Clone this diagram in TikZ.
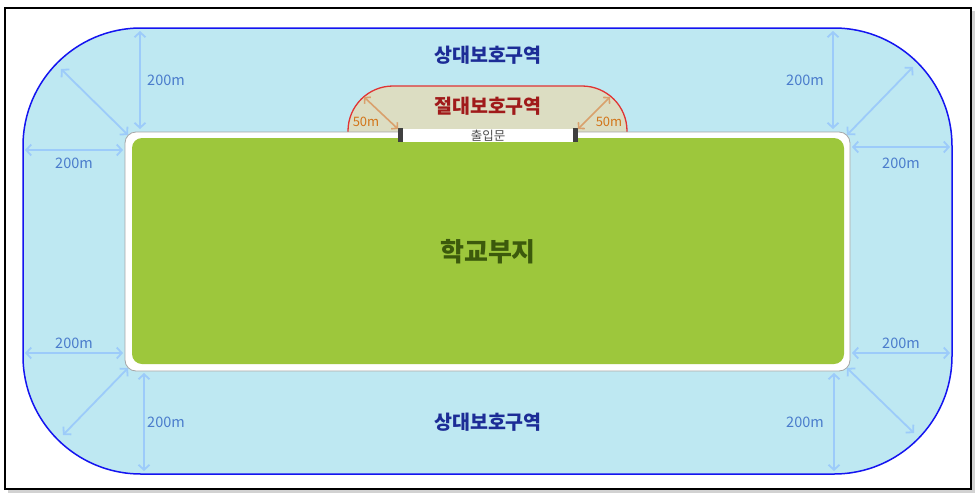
\documentclass[tikz,border=0pt]{standalone}
\usepackage{fontspec}
\setmainfont{Noto Sans CJK KR}
\usetikzlibrary{arrows.meta}
\definecolor{zoneblue}{HTML}{BEE8F2}
\definecolor{zoneedge}{HTML}{1414F0}
\definecolor{arrowblue}{HTML}{9CCBFA}
\definecolor{labelblue}{HTML}{4A7CCC}
\definecolor{navy}{HTML}{1C2C96}
\definecolor{schoolgreen}{HTML}{9DC73C}
\definecolor{darkgreen}{HTML}{3C5A0C}
\definecolor{absfill}{HTML}{DCDDC2}
\definecolor{absedge}{HTML}{E03434}
\definecolor{absred}{HTML}{A01A1A}
\definecolor{orangearrow}{HTML}{D9A06C}
\definecolor{orangetext}{HTML}{D27418}
\tikzset{
  dimarrow/.style={draw=arrowblue, line width=1.8pt, {Straight Barb[length=5pt,width=11pt]}-{Straight Barb[length=5pt,width=11pt]}},
  smallarrow/.style={draw=orangearrow, line width=1.6pt, {Straight Barb[length=4pt,width=9pt]}-{Straight Barb[length=4pt,width=9pt]}},
  dimlabel/.style={text=labelblue, font=\fontsize{14.5}{14.5}\selectfont, inner sep=0pt},
  zonelabel/.style={text=navy, font=\fontsize{19.5}{19.5}\selectfont\bfseries, inner sep=0pt},
  fiftylabel/.style={text=orangetext, font=\fontsize{13}{13}\selectfont, inner sep=0pt},
}
\begin{document}
\begin{tikzpicture}[x=1pt,y=-1pt]
\useasboundingbox (0,0) rectangle (978,496);
% frame
\fill[gray!35] (8,11) rectangle (975,493);
\draw[black, line width=2.5pt, fill=white] (5,8) rectangle (971,489);
% relative protection zone
\draw[zoneedge, line width=1.5pt, fill=zoneblue, rounded corners=118pt] (23,28) rectangle (952,474);
% absolute protection zone
\fill[absfill] (348,133) {[rounded corners=45pt] -- (348,86) -- (627,86)} -- (627,133) -- cycle;
\draw[absedge, line width=1.3pt, rounded corners=45pt] (348,133) -- (348,86) -- (627,86) -- (627,133);
% school boundary
\draw[gray!70, line width=0.8pt, fill=white, rounded corners=11pt] (125,132) rectangle (850,371);
\fill[schoolgreen, rounded corners=10pt] (132,138) rectangle (844,364);
% gate
\fill[white] (400,129) rectangle (575,142);
\fill[black!75] (398,128) rectangle (403,142);
\fill[black!75] (573,128) rectangle (578,142);
\node[text=black!70, font=\fontsize{12.5}{12.5}\selectfont, inner sep=0pt] (gate) at (488,135.5) {출입문};

% coordinates for dimension arrows
\coordinate (tlA) at (140,31); \coordinate (tlB) at (140,129);
\coordinate (tlC) at (61,69);  \coordinate (tlD) at (128,135);
\coordinate (tlE) at (25,150); \coordinate (tlF) at (123,150);
\coordinate (trA) at (833,31); \coordinate (trB) at (833,129);
\coordinate (trC) at (913,67); \coordinate (trD) at (847,135);
\coordinate (trE) at (852,147); \coordinate (trF) at (950,147);
\coordinate (blA) at (25,353); \coordinate (blB) at (123,353);
\coordinate (blC) at (128,368); \coordinate (blD) at (63,435);
\coordinate (blE) at (144,373); \coordinate (blF) at (144,471);
\coordinate (brA) at (852,353); \coordinate (brB) at (950,353);
\coordinate (brC) at (847,368); \coordinate (brD) at (914,433);
\coordinate (brE) at (834,373); \coordinate (brF) at (834,471);
\draw[dimarrow] (tlA) -- (tlB);
\draw[dimarrow] (tlC) -- (tlD);
\draw[dimarrow] (tlE) -- (tlF);
\draw[dimarrow] (trA) -- (trB);
\draw[dimarrow] (trC) -- (trD);
\draw[dimarrow] (trE) -- (trF);
\draw[dimarrow] (blA) -- (blB);
\draw[dimarrow] (blC) -- (blD);
\draw[dimarrow] (blE) -- (blF);
\draw[dimarrow] (brA) -- (brB);
\draw[dimarrow] (brC) -- (brD);
\draw[dimarrow] (brE) -- (brF);
\node[dimlabel] (ltop) at (166,80) {200m};
\node[dimlabel] (lleft) at (74,163) {200m};
\node[dimlabel] (rtop) at (805,80) {200m};
\node[dimlabel] (rright) at (901,163) {200m};
\node[dimlabel] (lbl) at (74,343) {200m};
\node[dimlabel] (lbot) at (166,422) {200m};
\node[dimlabel] (rbr) at (901,343) {200m};
\node[dimlabel] (rbot) at (805,422) {200m};

% 50m arrows
\coordinate (aL1) at (364,97); \coordinate (aL2) at (398,129);
\coordinate (aR1) at (578,129); \coordinate (aR2) at (610,97);
\draw[smallarrow] (aL1) -- (aL2);
\draw[smallarrow] (aR1) -- (aR2);
\node[fiftylabel] (l50) at (366,122) {50m};
\node[fiftylabel] (r50) at (609,122) {50m};

% zone labels
\node[zonelabel] (reltop) at (488,55) {상대보호구역};
\node[zonelabel] (relbot) at (488,422) {상대보호구역};
\node[text=absred, font=\fontsize{19.5}{19.5}\selectfont\bfseries, inner sep=0pt] (abs) at (488,106) {절대보호구역};
\node[text=darkgreen, font=\fontsize{26}{26}\selectfont\bfseries, inner sep=0pt] (school) at (488,252) {학교부지};
\end{tikzpicture}
\end{document}
